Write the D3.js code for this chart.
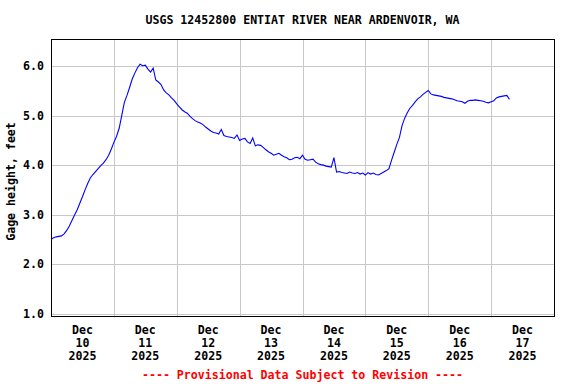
<!DOCTYPE html>
<html>
<head>
<meta charset="utf-8">
<script src="https://cdn.jsdelivr.net/npm/d3@7"></script>
<style>
  body { margin: 0; background: #fff; }
  text { font-family: 'DejaVu Sans Mono', 'Liberation Mono', monospace; font-weight: bold; font-size: 11.6px; }
</style>
</head>
<body>
<div class="chart_container"></div>
<script>
'use strict';

const title = 'USGS 12452800 ENTIAT RIVER NEAR ARDENVOIR, WA';
const yLabel = 'Gage height, feet';
const footNote = '---- Provisional Data Subject to Revision ----';

// hourly readings starting Dec 10 2025 00:00
const startTime = new Date(2025, 11, 10, 0, 0);
const stepHours = 1;
const gageHeight = [
  2.50, 2.53, 2.55, 2.56, 2.57, 2.61, 2.68, 2.77, 2.88, 2.99,
  3.10, 3.23, 3.36, 3.50, 3.63, 3.74, 3.81, 3.87, 3.93, 3.99,
  4.04, 4.11, 4.20, 4.32, 4.46, 4.58, 4.74, 5.00, 5.27, 5.41,
  5.57, 5.74, 5.86, 5.97, 6.04, 6.01, 6.02, 5.94, 5.88, 5.96,
  5.72, 5.68, 5.63, 5.52, 5.46, 5.42, 5.36, 5.31, 5.24, 5.18,
  5.12, 5.08, 5.05, 4.99, 4.94, 4.90, 4.87, 4.85, 4.82, 4.77,
  4.73, 4.69, 4.66, 4.65, 4.63, 4.72, 4.60, 4.58, 4.57, 4.56,
  4.54, 4.61, 4.50, 4.53, 4.54, 4.47, 4.44, 4.55, 4.39, 4.41,
  4.40, 4.36, 4.31, 4.27, 4.24, 4.20, 4.22, 4.24, 4.20, 4.17,
  4.15, 4.11, 4.12, 4.15, 4.16, 4.13, 4.20, 4.12, 4.10, 4.11,
  4.12, 4.06, 4.03, 4.01, 4.00, 3.98, 3.97, 3.96, 4.15, 3.86,
  3.87, 3.85, 3.84, 3.83, 3.86, 3.84, 3.83, 3.85, 3.82, 3.84,
  3.80, 3.85, 3.82, 3.84, 3.81, 3.80, 3.83, 3.86, 3.89, 3.93,
  4.10, 4.26, 4.42, 4.56, 4.80, 4.95, 5.06, 5.15, 5.21, 5.28,
  5.34, 5.38, 5.43, 5.47, 5.51, 5.44, 5.42, 5.41, 5.40, 5.39,
  5.37, 5.36, 5.35, 5.34, 5.32, 5.30, 5.29, 5.28, 5.25, 5.29,
  5.31, 5.31, 5.32, 5.31, 5.30, 5.29, 5.27, 5.26, 5.28, 5.30,
  5.36, 5.38, 5.39, 5.40, 5.41, 5.33
];

const yTicks = [1.0, 2.0, 3.0, 4.0, 5.0, 6.0];
const xTickDays = [10, 11, 12, 13, 14, 15, 16, 17];
const xTickMonth = 'Dec';
const xTickYear = '2025';

const width = 576,
  height = 384,
  plotLeft = 51,
  plotRight = 554,
  plotTop = 39,
  plotBottom = 316;

const dataset = gageHeight.map((v, i) => ({
  date: new Date(startTime.getTime() + i * stepHours * 3600 * 1000),
  value: v
}));

const svg = d3.select('.chart_container')
  .append('svg')
  .attr('width', width)
  .attr('height', height);

svg.append('rect')
  .attr('width', width)
  .attr('height', height)
  .attr('fill', '#fff');

const xScale = d3.scaleTime()
  .domain([new Date(2025, 11, 10), new Date(2025, 11, 18)])
  .range([plotLeft, plotRight]);

const yScale = d3.scaleLinear()
  .domain([0.95, 6.55])
  .range([plotBottom, plotTop]);

// grid
const gridDays = d3.timeDay.range(new Date(2025, 11, 11), new Date(2025, 11, 18));

svg.append('g')
  .selectAll('line')
  .data(gridDays)
  .enter()
  .append('line')
  .attr('x1', d => Math.round(xScale(d)) + 0.5)
  .attr('x2', d => Math.round(xScale(d)) + 0.5)
  .attr('y1', plotTop)
  .attr('y2', plotBottom)
  .attr('stroke', '#c8c8c8');

svg.append('g')
  .selectAll('line')
  .data(yTicks)
  .enter()
  .append('line')
  .attr('x1', plotLeft)
  .attr('x2', plotRight)
  .attr('y1', d => Math.round(yScale(d)) + 0.5)
  .attr('y2', d => Math.round(yScale(d)) + 0.5)
  .attr('stroke', '#c8c8c8');

// y tick labels
svg.append('g')
  .selectAll('text')
  .data(yTicks)
  .enter()
  .append('text')
  .attr('x', plotLeft - 7)
  .attr('y', d => yScale(d) + 4)
  .attr('text-anchor', 'end')
  .text(d => d.toFixed(1));

// x tick labels, centred on midday
const xLabels = svg.append('g')
  .selectAll('text')
  .data(xTickDays)
  .enter()
  .append('text')
  .attr('text-anchor', 'middle')
  .attr('transform', d => `translate(${xScale(new Date(2025, 11, d, 12))}, 0)`);

xLabels.append('tspan').attr('x', 0).attr('y', 334).text(xTickMonth);
xLabels.append('tspan').attr('x', 0).attr('y', 347).text(d => d);
xLabels.append('tspan').attr('x', 0).attr('y', 359.5).text(xTickYear);

// data line
const line = d3.line()
  .x(d => xScale(d.date))
  .y(d => yScale(d.value));

svg.append('path')
  .datum(dataset)
  .attr('d', line)
  .attr('fill', 'none')
  .attr('stroke', '#0000ff')
  .attr('stroke-width', 1.1);

// frame
svg.append('rect')
  .attr('x', plotLeft + 0.5)
  .attr('y', plotTop + 0.5)
  .attr('width', plotRight - plotLeft)
  .attr('height', plotBottom - plotTop)
  .attr('fill', 'none')
  .attr('stroke', '#000');

svg.append('text')
  .attr('x', (plotLeft + plotRight) / 2)
  .attr('y', 24)
  .attr('text-anchor', 'middle')
  .text(title);

svg.append('text')
  .attr('transform', `translate(15, ${(plotTop + plotBottom) / 2 + 4}) rotate(-90)`)
  .attr('text-anchor', 'middle')
  .text(yLabel);

svg.append('text')
  .attr('x', (plotLeft + plotRight) / 2)
  .attr('y', 378.5)
  .attr('text-anchor', 'middle')
  .attr('fill', '#ff0000')
  .text(footNote);
</script>
</body>
</html>
